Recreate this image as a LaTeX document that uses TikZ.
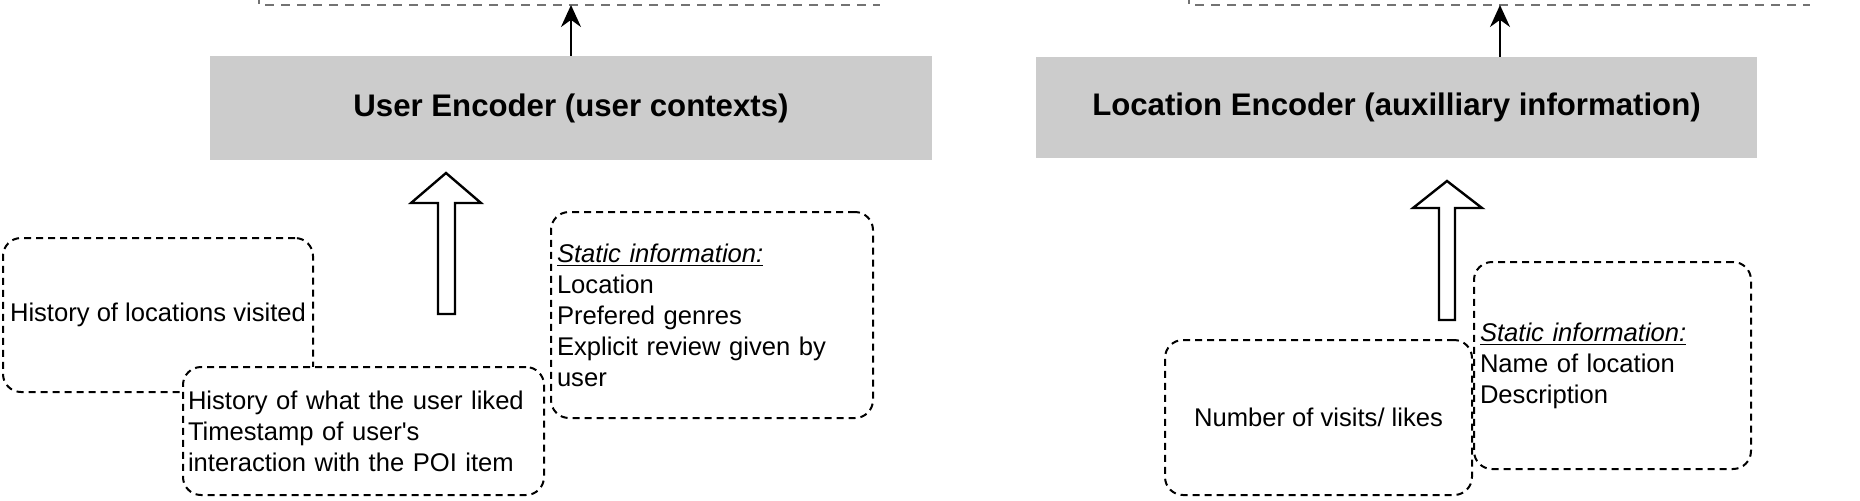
\documentclass[tikz,border=0pt]{standalone}
\usepackage{fontspec}
\setmainfont{Liberation Sans}
\usetikzlibrary{arrows.meta}
\definecolor{boxgray}{RGB}{204,204,204}
\definecolor{topdash}{RGB}{115,115,115}
\begin{document}
\begin{tikzpicture}[x=0.5pt,y=-0.5pt,
  encbox/.style={fill=boxgray, draw=none, inner sep=0pt,
    font=\bfseries\fontsize{15.6}{18}\selectfont},
  infobox/.style={draw, line width=1pt, dash pattern=on 3.5pt off 2.5pt,
    rounded corners=9pt, fill=white, inner sep=0pt,
    font=\fontsize{12.8}{15.5}\selectfont},
  topdashed/.style={draw=topdash, line width=1pt, dash pattern=on 4.5pt off 3.5pt},
  thinarrow/.style={-{Stealth[length=11pt,width=10pt]}, line width=1pt},
  hollowarrow/.style={draw, line width=1.2pt, fill=white, line join=miter}]
\useasboundingbox (0,0) rectangle (1860,500);

% encoders
\node[encbox, minimum width=361pt, minimum height=52pt] (userenc) at (571,108) {User Encoder (user contexts)};
\node[encbox, minimum width=360.5pt, minimum height=50.5pt] (locenc) at (1396.5,107.5) {Location Encoder (auxilliary information)};

% partial output boxes at top
\draw[topdashed] (259,-5) -- (259,5) -- (880,5);
\draw[topdashed] (1189,-5) -- (1189,5) -- (1810,5);
\coordinate (outU) at (571,5);
\coordinate (outL) at (1500,5);
\draw[thinarrow] (userenc.north -| outU) -- (outU);
\draw[thinarrow] (locenc.north -| outL) -- (outL);

% hollow arrows
\draw[hollowarrow] (438,314) -- (438,203) -- (411,203) -- (446,173) -- (481,203) -- (455,203) -- (455,314) -- cycle;
\draw[hollowarrow] (1439,320) -- (1439,208) -- (1413,208) -- (1447,181) -- (1482,208) -- (1455,208) -- (1455,320) -- cycle;

% user context boxes
\node[infobox, minimum width=155pt, minimum height=77pt] (hist1) at (158,315) {History of locations visited};
\node[infobox, minimum width=180.5pt, minimum height=64pt, text width=175.5pt, align=left] (hist2) at (363.5,431)
  {History of what the user liked\\Timestamp of user\textquotesingle s\\interaction with the POI item};
\node[infobox, minimum width=161pt, minimum height=103pt, text width=155pt, align=left] (static1) at (712,315)
  {\underline{\itshape Static information:}\\Location\\Prefered genres\\Explicit review given by\\user};

% location boxes
\node[infobox, minimum width=153.5pt, minimum height=77.5pt] (number) at (1318.5,417.5) {Number of visits/ likes};
\node[infobox, minimum width=138.5pt, minimum height=103.5pt, text width=132.5pt, align=left] (static2) at (1612.5,365.5)
  {\underline{\itshape Static information:}\\Name of location\\Description};
\end{tikzpicture}
\end{document}
